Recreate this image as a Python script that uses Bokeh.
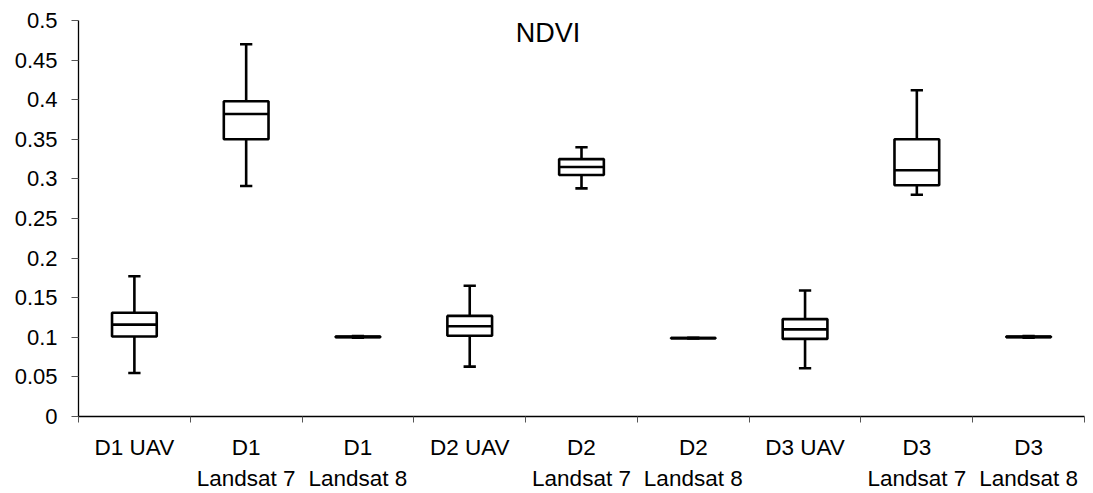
from bokeh.plotting import figure
from bokeh.models import FixedTicker, CustomJSTickFormatter, Range1d, Label, ColumnDataSource
from bokeh.transform import dodge
from bokeh.embed import file_html
from bokeh.resources import INLINE

# ---- data ----
categories = ["D1 UAV", "D1\nLandsat 7", "D1\nLandsat 8",
              "D2 UAV", "D2\nLandsat 7", "D2\nLandsat 8",
              "D3 UAV", "D3\nLandsat 7", "D3\nLandsat 8"]
whisker_low = [0.055, 0.291, 0.0995, 0.063, 0.288, 0.0985, 0.061, 0.280, 0.0995]
q1          = [0.101, 0.350, 0.1000, 0.102, 0.305, 0.0988, 0.098, 0.292, 0.1000]
median      = [0.116, 0.382, 0.1005, 0.114, 0.315, 0.0990, 0.110, 0.311, 0.1005]
q3          = [0.131, 0.398, 0.1010, 0.127, 0.325, 0.0992, 0.123, 0.350, 0.1010]
whisker_high= [0.177, 0.470, 0.1015, 0.165, 0.340, 0.0995, 0.159, 0.412, 0.1015]
y_ticks = [0, 0.05, 0.1, 0.15, 0.2, 0.25, 0.3, 0.35, 0.4, 0.45, 0.5]
title_text = "NDVI"

FONT = "Liberation Sans"
n = len(categories)
centers = [i + 0.5 for i in range(n)]
bounds = list(range(n + 1))

src = ColumnDataSource(dict(x=centers, lo=whisker_low, q1=q1, med=median, q3=q3, hi=whisker_high))

p = figure(width=1093, height=493, output_backend="svg", toolbar_location=None,
           x_range=Range1d(0, n), y_range=Range1d(0, 0.5),
           min_border_left=78, min_border_right=9, min_border_top=20, min_border_bottom=72)
p.outline_line_color = None
p.xgrid.visible = False
p.ygrid.visible = False
p.background_fill_color = "white"
p.border_fill_color = "white"

LW = 2.6
box_w = 0.40
cap_w = 0.11

# whiskers
p.segment(x0="x", y0="q3", x1="x", y1="hi", source=src, line_color="black", line_width=LW)
p.segment(x0="x", y0="lo", x1="x", y1="q1", source=src, line_color="black", line_width=LW)
# caps
p.segment(x0=dodge("x", -cap_w / 2), y0="hi", x1=dodge("x", cap_w / 2), y1="hi",
          source=src, line_color="black", line_width=LW)
p.segment(x0=dodge("x", -cap_w / 2), y0="lo", x1=dodge("x", cap_w / 2), y1="lo",
          source=src, line_color="black", line_width=LW)
# boxes
p.vbar(x="x", bottom="q1", top="q3", width=box_w, source=src, fill_color="white",
       line_color="black", line_width=LW)
# medians
p.segment(x0=dodge("x", -box_w / 2), y0="med", x1=dodge("x", box_w / 2), y1="med",
          source=src, line_color="black", line_width=LW)

# x axis
xa = p.xaxis[0]
xa.ticker = FixedTicker(ticks=centers, minor_ticks=bounds)
xa.major_label_overrides = {c: lab for c, lab in zip(centers, categories)}
xa.major_tick_line_color = None
xa.minor_tick_line_color = "#555555"
xa.minor_tick_in = 0
xa.minor_tick_out = 6
xa.axis_line_color = "black"
xa.axis_line_width = 1.3
xa.major_label_text_font = FONT
xa.major_label_text_font_size = "22.5px"
xa.major_label_text_color = "black"
xa.major_label_text_line_height = 1.25
xa.major_label_standoff = 12

# y axis
ya = p.yaxis[0]
ya.ticker = FixedTicker(ticks=y_ticks, minor_ticks=[])
ya.formatter = CustomJSTickFormatter(code="return String(+tick.toFixed(2));")
ya.major_tick_line_color = "#555555"
ya.major_tick_in = 0
ya.major_tick_out = 7
ya.minor_tick_line_color = None
ya.axis_line_color = "black"
ya.axis_line_width = 1.3
ya.major_label_text_font = FONT
ya.major_label_text_font_size = "22px"
ya.major_label_text_color = "black"
ya.major_label_standoff = 14

# title inside the plot area
p.add_layout(Label(x=4.2, y=0.484, text=title_text, text_font=FONT, text_font_size="27px",
                   text_align="center", text_baseline="middle", text_color="black"))

open("out.html", "w").write(file_html(p, INLINE))
